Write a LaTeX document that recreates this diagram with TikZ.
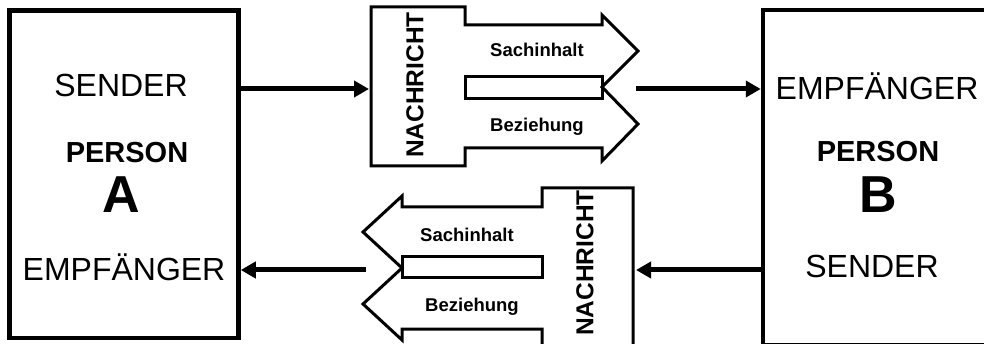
\documentclass[tikz,border=0pt]{standalone}
\usepackage{fontspec}
\setmainfont{Liberation Sans}
\usetikzlibrary{arrows.meta, positioning}

\tikzset{
  personbox/.style={draw, line width=4.5pt, inner sep=0pt},
  msg/.style={line width=3pt, line join=miter},
  conn/.style={line width=5pt, -{Triangle[length=15pt,width=16pt]}},
  rolle/.style={anchor=base, font=\fontsize{32}{32}\selectfont},
  wer/.style={anchor=base, font=\fontsize{29}{29}\selectfont\bfseries},
  buchstabe/.style={anchor=base, font=\fontsize{52}{52}\selectfont\bfseries},
  nachricht/.style={rotate=90, font=\fontsize{24.5}{24.5}\selectfont\bfseries},
  teil/.style={anchor=base, font=\fontsize{18.5}{18.5}\selectfont\bfseries}
}

\begin{document}
\begin{tikzpicture}[x=1pt,y=-1pt, line cap=butt]
  \useasboundingbox (0,0) rectangle (984,344);

  %--- Person A
  \node[personbox, minimum width=229pt, minimum height=327.5pt] (boxA) at (124,174.25) {};
  \node[rolle] (senderA) at (121,97) {SENDER};
  \node[wer] (personA) at (127,163) {PERSON};
  \node[buchstabe] (letterA) at (121,213) {A};
  \node[rolle] (empfA) at (124,280) {EMPFÄNGER};

  %--- Person B (rechts abgeschnitten)
  \node[personbox, minimum width=247pt, minimum height=335pt] (boxB) at (886.5,177.5) {};
  \node[rolle] (empfB) at (877,100) {EMPFÄNGER};
  \node[wer] (personB) at (878,162) {PERSON};
  \node[buchstabe] (letterB) at (878,213) {B};
  \node[rolle] (senderB) at (872,278) {SENDER};

  %--- Nachricht oben (A -> B)
  \draw[msg] (371,7) -- (465,7) -- (465,25) -- (602,25) -- (602,15)
    -- (638,51) -- (602,87) -- (638,124) -- (602,161) -- (602,148)
    -- (465,148) -- (465,166) -- (371,166) -- cycle;
  \draw[msg] (465,77) rectangle (602,99);
  \node[nachricht] (nachrichtTop) at (415,85) {NACHRICHT};
  \node[teil] (sachTop) at (537,57) {Sachinhalt};
  \node[teil] (bezTop) at (537,132) {Beziehung};
  \coordinate (topIn) at (369,89);
  \coordinate (topOut) at (636,89);

  %--- Nachricht unten (B -> A)
  \draw[msg] (633,360) -- (633,188) -- (542,188) -- (542,207) -- (402,207)
    -- (402,196) -- (363,232) -- (402,268) -- (363,304) -- (402,340)
    -- (402,329) -- (542,329) -- (542,360);
  \draw[msg] (402,257) rectangle (542,278);
  \node[nachricht] (nachrichtBot) at (585,263) {NACHRICHT};
  \node[teil] (sachBot) at (467,242) {Sachinhalt};
  \node[teil] (bezBot) at (472,312) {Beziehung};
  \coordinate (botIn) at (636,270);
  \coordinate (botOut) at (366,270);

  %--- Pfeile
  \draw[conn] (boxA.east |- topIn) -- (topIn);
  \draw[conn] (topOut) -- (boxB.west |- topOut);
  \draw[conn] (boxB.west |- botIn) -- (botIn);
  \draw[conn] (botOut) -- (boxA.east |- botOut);
\end{tikzpicture}
\end{document}
